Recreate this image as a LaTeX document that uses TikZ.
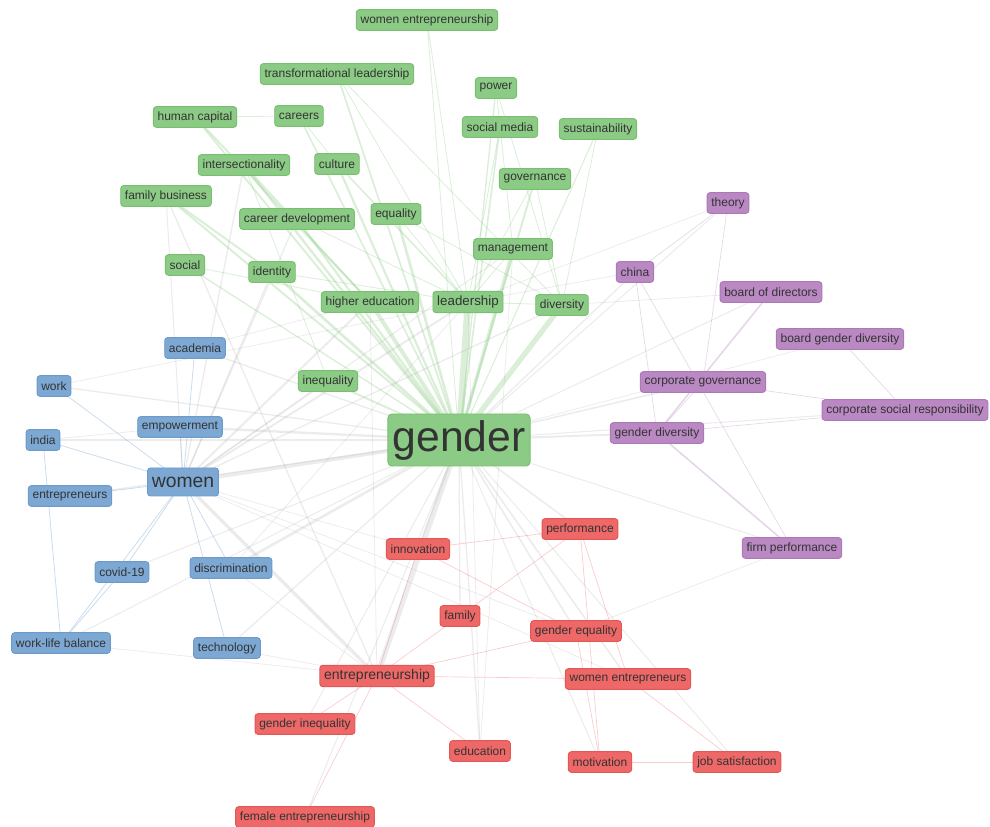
\documentclass[tikz,border=0pt]{standalone}
\usepackage{fontspec}
\setmainfont{Liberation Sans}
\usetikzlibrary{backgrounds}
\definecolor{gfill}{HTML}{8CCB85}\definecolor{gdraw}{HTML}{78BF70}
\definecolor{bfill}{HTML}{7CA8D3}\definecolor{bdraw}{HTML}{6C9BC9}
\definecolor{pfill}{HTML}{BA88C3}\definecolor{pdraw}{HTML}{AB79B4}
\definecolor{rfill}{HTML}{EE6868}\definecolor{rdraw}{HTML}{E35757}
\definecolor{txt}{HTML}{333333}
\definecolor{gline}{HTML}{8CCB85}\definecolor{bline}{HTML}{7CA8D3}
\definecolor{pline}{HTML}{BA88C3}\definecolor{rline}{HTML}{EE6868}
\definecolor{eline}{HTML}{AAAAAA}
\tikzset{
  kw/.style={rounded corners=2.2pt, line width=0.7pt, text=txt, inner xsep=3.2pt, inner ysep=0pt, minimum height=15.5pt, font=\fontsize{9}{10}\selectfont},
  gn/.style={kw, fill=gfill, draw=gdraw},
  bl/.style={kw, fill=bfill, draw=bdraw},
  pu/.style={kw, fill=pfill, draw=pdraw},
  rd/.style={kw, fill=rfill, draw=rdraw},
  ge/.style={draw=eline, opacity=0.22, line width=#1},
  ge/.default=0.6pt,
  gg/.style={draw=gline, opacity=0.32, line width=#1},
  gg/.default=0.6pt,
  bb/.style={draw=bline, opacity=0.4, line width=#1},
  bb/.default=0.6pt,
  pp/.style={draw=pline, opacity=0.35, line width=#1},
  pp/.default=0.5pt,
  rr/.style={draw=rline, opacity=0.35, line width=#1},
  rr/.default=0.5pt,
}
\begin{document}
\begin{tikzpicture}[x=0.75pt,y=-0.75pt]
\useasboundingbox (0,0) rectangle (990,827);
% green
\node[gn] (went) at (427,20) {women entrepreneurship};
\node[gn] (trl) at (337,74) {transformational leadership};
\node[gn] (pow) at (496,88) {power};
\node[gn] (hcap) at (195,117) {human capital};
\node[gn] (car) at (299,116) {careers};
\node[gn] (smed) at (500,127) {social media};
\node[gn] (sus) at (598,129) {sustainability};
\node[gn] (inter) at (244,165) {intersectionality};
\node[gn] (cult) at (337,164) {culture};
\node[gn] (gov) at (535,179) {governance};
\node[gn] (fbus) at (166,196) {family business};
\node[gn] (cdev) at (297,219) {career development};
\node[gn] (equ) at (396,214) {equality};
\node[gn] (man) at (513,249) {management};
\node[gn] (soc) at (185,265) {social};
\node[gn] (ident) at (272,272) {identity};
\node[gn] (hed) at (370,302) {higher education};
\node[gn, font=\fontsize{10}{11}\selectfont, minimum height=16pt] (lead) at (468,302) {leadership};
\node[gn] (div) at (562,305) {diversity};
\node[gn] (ineq) at (328,381) {inequality};
\node[gn, font=\fontsize{32}{34}\selectfont, minimum height=39pt, inner xsep=3.5pt, rounded corners=3pt] (gender) at (459,440) {gender};
% blue
\node[bl] (acad) at (195,348) {academia};
\node[bl] (work) at (54,386) {work};
\node[bl] (india) at (43,440) {india};
\node[bl] (emp) at (180,427) {empowerment};
\node[bl, font=\fontsize{14.5}{15}\selectfont, minimum height=21pt] (women) at (183,482) {women};
\node[bl] (entrs) at (70,496) {entrepreneurs};
\node[bl] (covid) at (122,572) {covid-19};
\node[bl] (disc) at (231,568) {discrimination};
\node[bl] (wlb) at (61,643) {work-life balance};
\node[bl] (tech) at (227,648) {technology};
% purple
\node[pu] (theory) at (728,203) {theory};
\node[pu] (china) at (635,272) {china};
\node[pu] (bod) at (771,292) {board of directors};
\node[pu] (bgd) at (840,339) {board gender diversity};
\node[pu] (cg) at (703,382) {corporate governance};
\node[pu] (csr) at (905,410) {corporate social responsibility};
\node[pu] (gdiv) at (657,433) {gender diversity};
\node[pu] (fperf) at (792,548) {firm performance};
% red
\node[rd] (innov) at (418,549) {innovation};
\node[rd] (perf) at (580,529) {performance};
\node[rd] (fam) at (460,616) {family};
\node[rd] (geq) at (576,631) {gender equality};
\node[rd, font=\fontsize{10.5}{11}\selectfont, minimum height=16pt] (entr) at (377,676) {entrepreneurship};
\node[rd] (wents) at (628,679) {women entrepreneurs};
\node[rd] (ginq) at (305,724) {gender inequality};
\node[rd] (edu) at (480,751) {education};
\node[rd] (mot) at (600,762) {motivation};
\node[rd] (jsat) at (737,762) {job satisfaction};
\node[rd] (fent) at (305,817) {female entrepreneurship};

\begin{pgfonlayer}{background}
% gender to green nodes
\foreach \n/\w in {lead/5pt, div/4pt, hed/3pt, man/2.5pt, equ/2pt, cult/1.6pt, cdev/1.6pt, inter/1.8pt, ident/2pt, fbus/1.5pt, trl/1.2pt, hcap/1.4pt, car/1.2pt, pow/1pt, smed/1.2pt, gov/1.5pt, sus/0.8pt, went/0.6pt, soc/1pt, ineq/1.5pt}
  \draw[gg=\w] (gender.center) -- (\n.center);
% gender to others
\foreach \n/\w in {women/3pt, entr/4pt, emp/1.8pt, india/1.5pt, work/1pt, disc/2pt, tech/1pt, covid/0.8pt, entrs/1pt, acad/1pt, wlb/0.8pt, gdiv/1.5pt, cg/1.2pt, china/1pt, theory/0.8pt, bod/0.8pt, csr/0.8pt, fperf/0.8pt, bgd/0.6pt, innov/1.2pt, perf/1.2pt, fam/1pt, geq/1.2pt, wents/1.2pt, edu/1pt, mot/0.8pt, jsat/0.8pt, ginq/0.8pt, fent/0.8pt}
  \draw[ge=\w] (gender.center) -- (\n.center);
% women to others
\foreach \n in {work, india, entrs, covid, disc, tech, acad, emp, wlb}
  \draw[bb] (women.center) -- (\n.center);
\foreach \n/\w in {hed/1.5pt, lead/1.5pt, ident/1pt, inter/1pt, ineq/1pt, cdev/1pt, fbus/0.8pt, entr/2.5pt, div/1pt, man/0.8pt, geq/0.6pt, innov/0.6pt, wents/0.6pt}
  \draw[ge=\w] (women.center) -- (\n.center);
\draw[bb] (india.center) -- (wlb.center);
\draw[bb] (covid.center) -- (wlb.center);
\draw[ge] (work.center) -- (lead.center);
\draw[ge] (india.center) -- (emp.center);
\draw[ge] (wlb.center) -- (entr.center);
\draw[ge] (acad.center) -- (hed.center);
\draw[ge] (tech.center) -- (entr.center);
\draw[ge=1pt] (fbus.center) -- (entr.center);
\draw[ge] (disc.center) -- (lead.center);
% green intra
\draw[gg] (hcap.center) -- (car.center);
\draw[gg=1.5pt] (hcap.center) -- (hed.center);
\draw[gg] (car.center) -- (cult.center);
\draw[gg=1.2pt] (cult.center) -- (lead.center);
\draw[gg=1.2pt] (inter.center) -- (hed.center);
\draw[gg=1.5pt] (fbus.center) -- (ident.center);
\draw[gg] (trl.center) -- (lead.center);
\draw[gg] (trl.center) -- (div.center);
\draw[gg] (pow.center) -- (man.center);
\draw[gg] (pow.center) -- (div.center);
\draw[gg] (smed.center) -- (lead.center);
\draw[gg] (gov.center) -- (lead.center);
\draw[gg] (gov.center) -- (div.center);
\draw[gg] (sus.center) -- (div.center);
\draw[gg] (equ.center) -- (lead.center);
\draw[gg] (equ.center) -- (div.center);
\draw[gg] (cdev.center) -- (lead.center);
\draw[gg] (ident.center) -- (lead.center);
\draw[gg] (lead.center) -- (div.center);
\draw[gg] (man.center) -- (lead.center);
\draw[gg] (went.center) -- (lead.center);
\draw[gg] (soc.center) -- (hed.center);
\draw[gg] (inter.center) -- (ineq.center);
% purple
\draw[pp] (theory.center) -- (china.center);
\draw[pp] (theory.center) -- (cg.center);
\draw[pp=1.2pt] (bod.center) -- (gdiv.center);
\draw[pp] (bgd.center) -- (csr.center);
\draw[pp] (cg.center) -- (csr.center);
\draw[pp=1.2pt] (gdiv.center) -- (fperf.center);
\draw[pp] (china.center) -- (gdiv.center);
\draw[pp] (china.center) -- (fperf.center);
\draw[pp] (gdiv.center) -- (csr.center);
\draw[pp] (cg.center) -- (gdiv.center);
\draw[ge] (theory.center) -- (lead.center);
\draw[ge] (bod.center) -- (div.center);
\draw[ge] (china.center) -- (lead.center);
\draw[ge] (fperf.center) -- (geq.center);
% red
\foreach \n in {innov, fam, wents, ginq, fent, edu, geq}
  \draw[rr] (entr.center) -- (\n.center);
\draw[rr] (innov.center) -- (perf.center);
\draw[rr] (fam.center) -- (perf.center);
\draw[rr] (perf.center) -- (mot.center);
\draw[rr] (geq.center) -- (mot.center);
\draw[rr] (mot.center) -- (jsat.center);
\draw[rr] (wents.center) -- (jsat.center);
\draw[rr] (innov.center) -- (geq.center);
\draw[rr] (perf.center) -- (wents.center);
\draw[ge] (man.center) -- (edu.center);
\draw[ge] (lead.center) -- (edu.center);
\draw[ge] (hed.center) -- (entr.center);
\draw[ge] (disc.center) -- (entr.center);
\end{pgfonlayer}
\end{tikzpicture}
\end{document}
